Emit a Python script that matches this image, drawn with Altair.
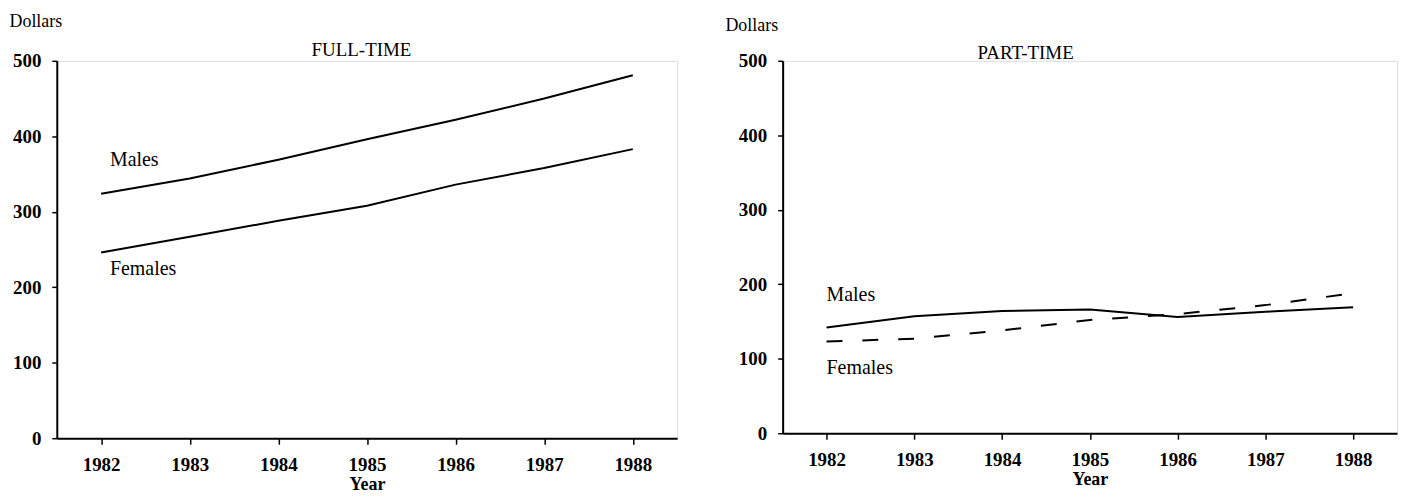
import altair as alt
import pandas as pd

years = [1982, 1983, 1984, 1985, 1986, 1987, 1988]
ft_males = [324, 344, 369, 396, 422, 450, 481]
ft_females = [246, 267, 288, 308, 336, 358, 383]
pt_males = [142, 157, 164, 166, 156, 163, 169]
pt_females = [123, 127, 138, 152, 160, 172, 188]
y_ticks = [0, 50, 100, 150, 200, 250, 300, 350, 400, 450, 500]

FONT = "Liberation Serif"


def panel(heading, head_x, head_y, males, females, female_dash, lbl_m, lbl_f,
          width, height, dollars_x, dollars_y):
    df = pd.DataFrame({"Year": years, "Males": males, "Females": females})
    x = alt.X(
        "Year:Q",
        scale=alt.Scale(domain=[1981.5, 1988.5], nice=False, zero=False),
        axis=alt.Axis(
            values=years, format="d", title="Year", grid=False,
            domainColor="black", domainWidth=2, tickColor="black", tickWidth=1.5,
            tickSize=6, labelFont=FONT, labelFontSize=19, labelFontWeight="bold",
            labelColor="black", labelPadding=11, titleFont=FONT, titleFontSize=18,
            titleFontWeight="bold", titleColor="black", titlePadding=2,
        ),
    )
    yscale = alt.Scale(domain=[0, 500], nice=False)
    yaxis = alt.Axis(
        values=y_ticks, labelExpr="datum.value % 100 == 0 ? datum.label : ''",
        title="Dollars", titleAngle=0, titleAlign="left", titleBaseline="middle",
        titleX=dollars_x, titleY=dollars_y, titleFont=FONT, titleFontSize=18,
        titleFontWeight="normal", titleColor="black", grid=False,
        domainColor="black", domainWidth=2, tickColor="black", tickWidth=1.5,
        tickSize=5, labelFont=FONT, labelFontSize=19, labelFontWeight="bold",
        labelColor="black", labelPadding=11,
    )
    base = alt.Chart(df)
    m_line = base.mark_line(color="black", strokeWidth=2).encode(
        x=x, y=alt.Y("Males:Q", scale=yscale, axis=yaxis)
    )
    f_kw = dict(color="black", strokeWidth=2)
    if female_dash:
        f_kw["strokeDash"] = [16, 20]
    f_line = base.mark_line(**f_kw).encode(x="Year:Q", y="Females:Q")

    lab = pd.DataFrame({
        "Year": [lbl_m[0], lbl_f[0]],
        "Dollars": [lbl_m[1], lbl_f[1]],
        "text": ["Males", "Females"],
    })
    labels = alt.Chart(lab).mark_text(
        font=FONT, fontSize=20, align="left", baseline="middle", color="black"
    ).encode(x="Year:Q", y="Dollars:Q", text="text:N")

    head = alt.Chart(pd.DataFrame({"t": [heading]})).mark_text(
        font=FONT, fontSize=19, align="center", baseline="middle", color="black"
    ).encode(text="t:N", x=alt.value(head_x), y=alt.value(head_y))

    return alt.layer(m_line, f_line, labels, head).properties(width=width, height=height)


left = panel("FULL-TIME", 306, -11, ft_males, ft_females, False,
             (1982.1, 369), (1982.1, 224), 623, 379, -48, -39)
right = panel("PART-TIME", 244, -8, pt_males, pt_females, True,
              (1982.0, 186), (1982.0, 88), 617, 374, -58, -35)

chart = alt.hconcat(left, right, spacing=46).properties(
    padding={"left": 0, "top": 3, "right": 0, "bottom": 0}
).configure_view(stroke=None).configure(background="white")

chart.save("out.html", embed_options={"renderer": "svg", "actions": False})
